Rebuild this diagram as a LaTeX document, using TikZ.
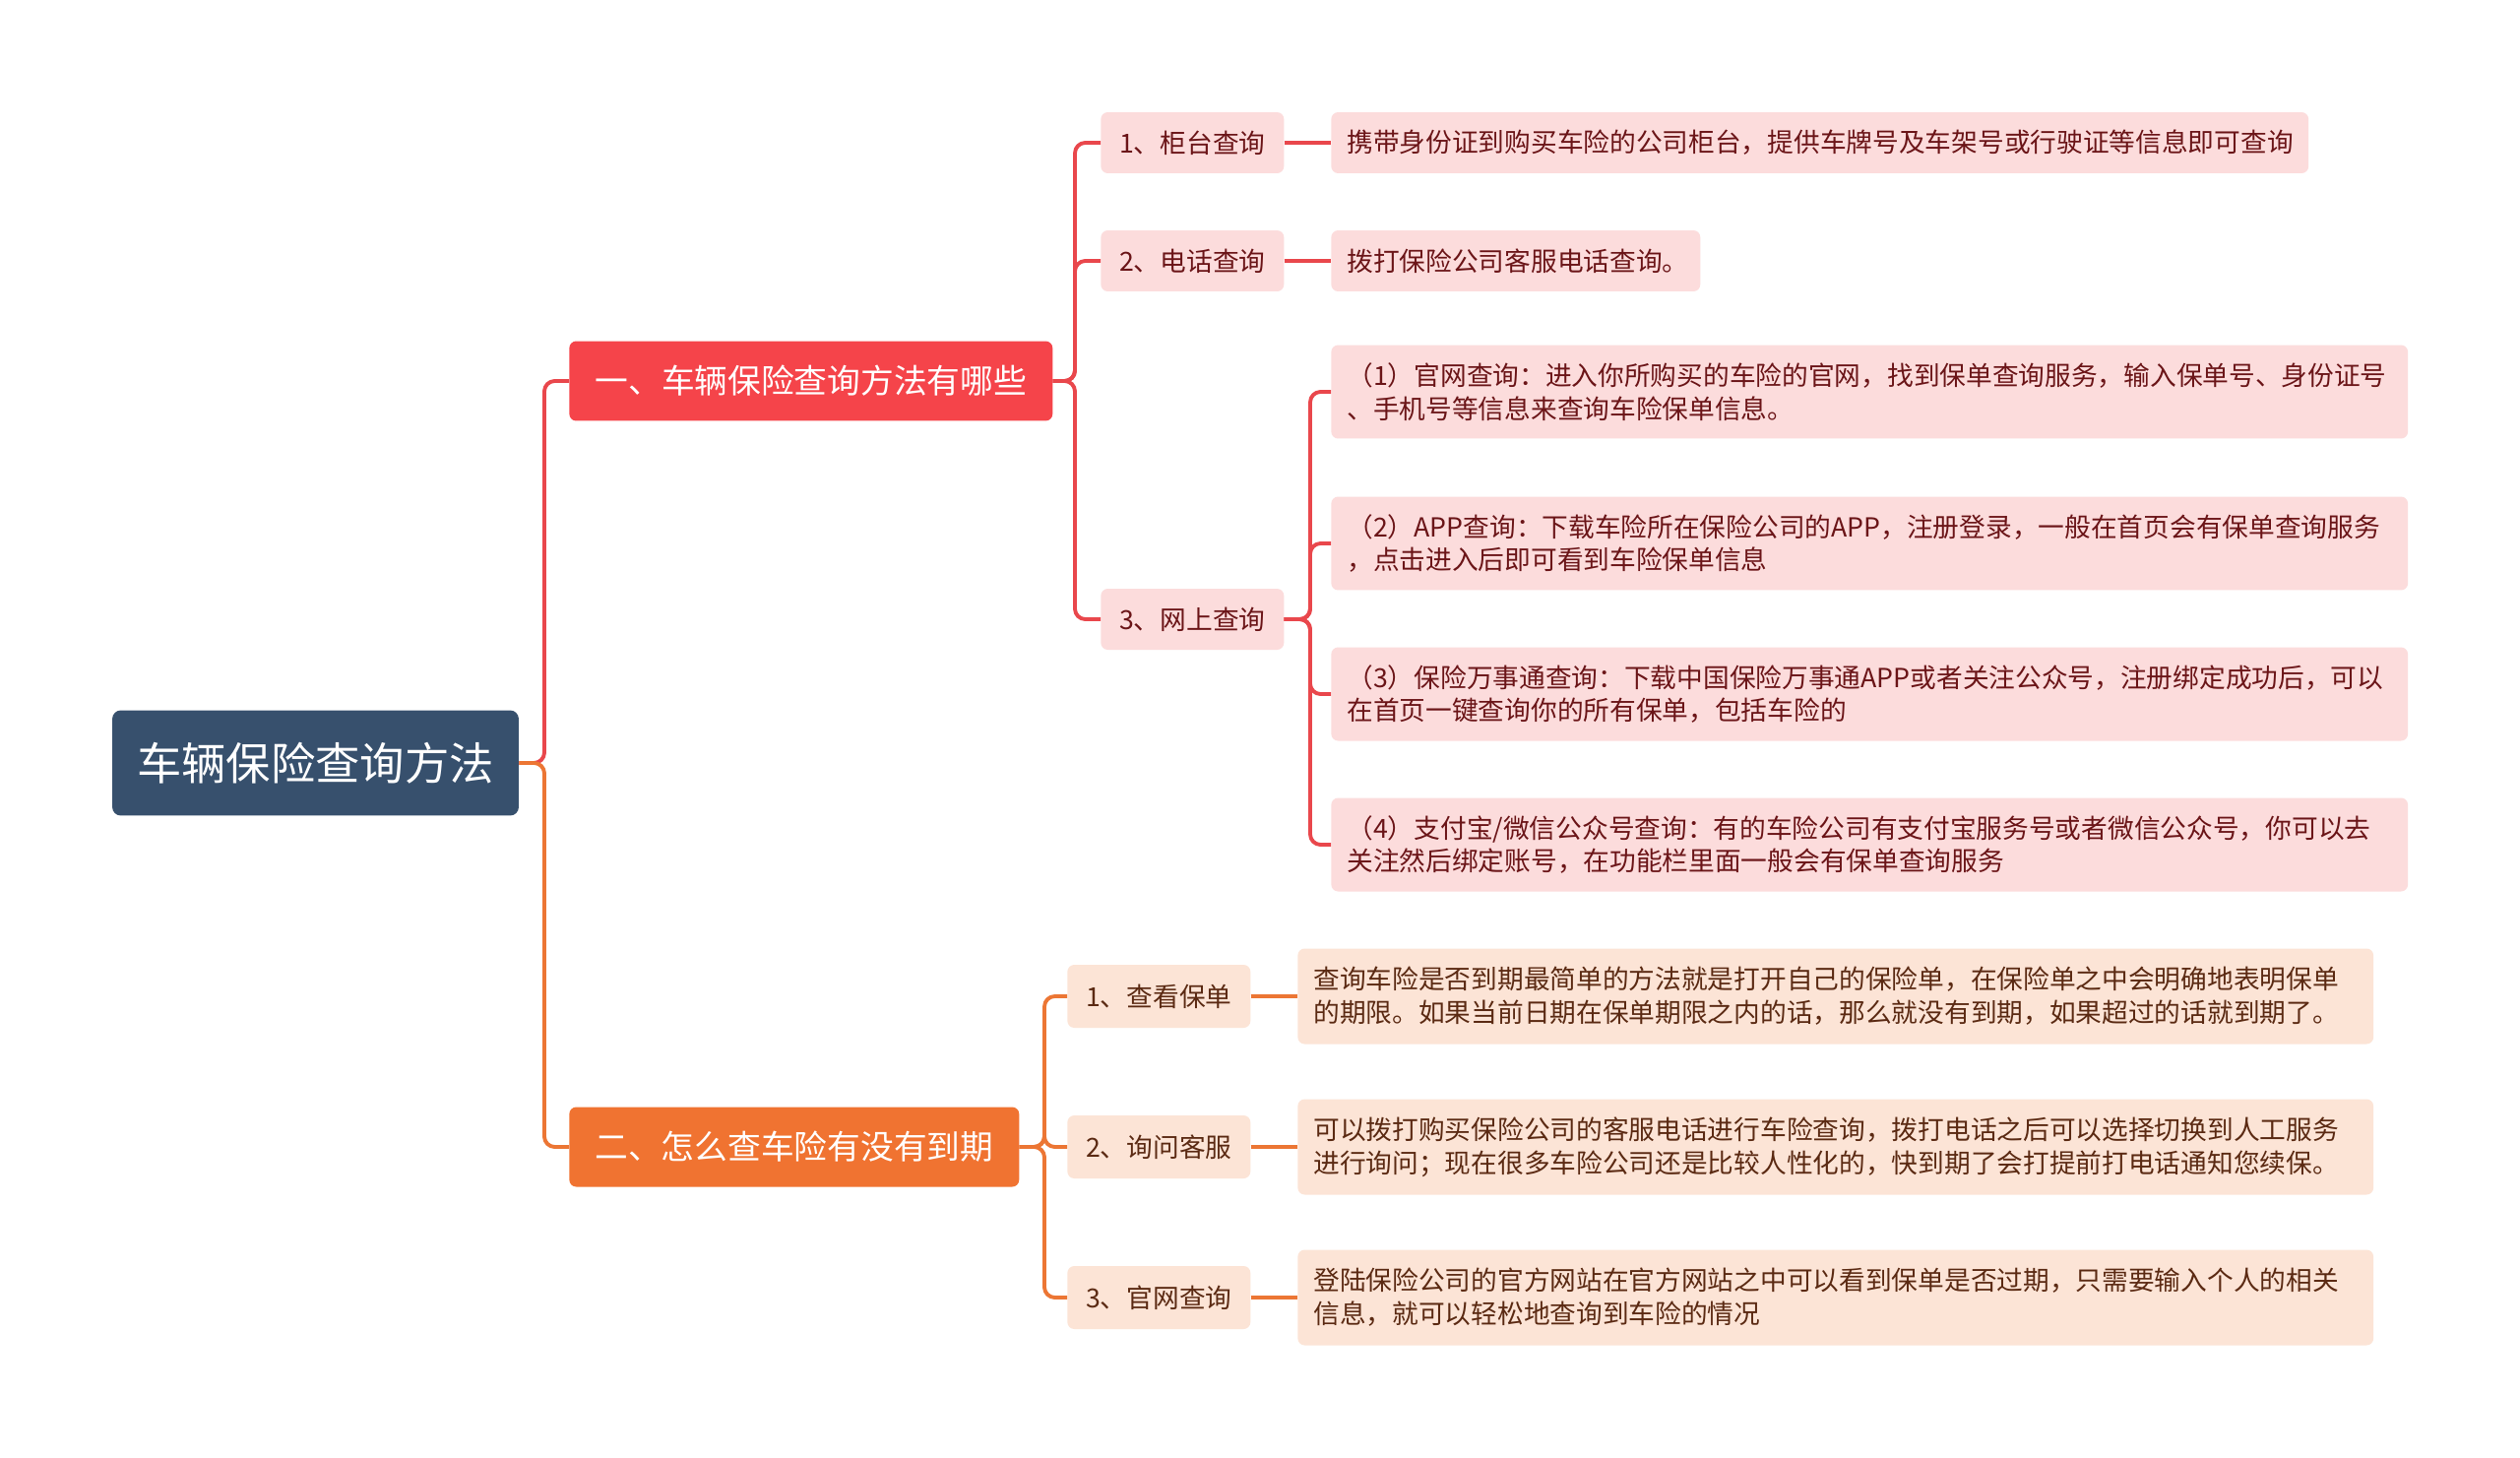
\documentclass[tikz,border=0pt]{standalone}
\usepackage{fontspec}
\setmainfont{Noto Sans CJK SC}
\usepackage{xcolor}
\usetikzlibrary{positioning}

\definecolor{rootblue}{HTML}{37506D}
\definecolor{redmain}{HTML}{F5444A}
\definecolor{redline}{HTML}{E9474C}
\definecolor{redsoft}{HTML}{FCDCDC}
\definecolor{redtext}{HTML}{6B1518}
\definecolor{orgmain}{HTML}{F07331}
\definecolor{orgline}{HTML}{EC7634}
\definecolor{orgsoft}{HTML}{FCE4D6}
\definecolor{orgtext}{HTML}{5B2A13}

\begin{document}
\begin{tikzpicture}[x=0.02cm, y=-0.02cm,
        root/.style={fill=rootblue, text=white, rounded corners=5pt,
                     font=\fontsize{25.8}{30}\selectfont,
                     minimum width=8.26cm, minimum height=2.14cm},
        topic/.style={text=white, rounded corners=4pt, anchor=west,
                      font=\fontsize{19.2}{23}\selectfont, minimum height=1.62cm},
        sub/.style={rounded corners=4pt, anchor=west,
                    font=\fontsize{15.2}{19.3}\selectfont,
                    minimum width=3.72cm, minimum height=1.24cm},
        leaf/.style={rounded corners=4pt, anchor=west, align=left,
                     font=\fontsize{15.2}{19.3}\selectfont,
                     inner xsep=0.32cm, minimum height=1.24cm},
        link/.style={line width=2.2pt, rounded corners=6pt}]
      \fill[white] (0,0) rectangle (2560,1481);
      \useasboundingbox (0,0) rectangle (2560,1481);

      \node[root] (root) at (320.5,775) {车辆保险查询方法};
      \node[topic, fill=redmain, minimum width=9.82cm] (b1) at (578,387)
            {一、车辆保险查询方法有哪些};
      \node[topic, fill=orgmain, minimum width=9.14cm] (b2) at (578,1165)
            {二、怎么查车险有没有到期};

      % first branch
      \node[sub, fill=redsoft, text=redtext] (s1) at (1118,145) {1、柜台查询};
      \node[sub, fill=redsoft, text=redtext] (s2) at (1118,265) {2、电话查询};
      \node[sub, fill=redsoft, text=redtext] (s3) at (1118,629) {3、网上查询};
      \node[leaf, fill=redsoft, text=redtext, text width=19.22cm] (l1) at (1352,145)
            {携带身份证到购买车险的公司柜台，提供车牌号及车架号或行驶证等信息即可查询};
      \node[leaf, fill=redsoft, text=redtext, text width=6.86cm] (l2) at (1352,265)
            {拨打保险公司客服电话查询。};
      \node[leaf, fill=redsoft, text=redtext, text width=21.24cm, minimum height=1.9cm] (w1) at (1352,398)
            {（1）官网查询：进入你所购买的车险的官网，找到保单查询服务，输入保单号、身份证号\\、手机号等信息来查询车险保单信息。};
      \node[leaf, fill=redsoft, text=redtext, text width=21.24cm, minimum height=1.9cm] (w2) at (1352,552)
            {（2）APP查询：下载车险所在保险公司的APP，注册登录，一般在首页会有保单查询服务\\，点击进入后即可看到车险保单信息};
      \node[leaf, fill=redsoft, text=redtext, text width=21.24cm, minimum height=1.9cm] (w3) at (1352,705)
            {（3）保险万事通查询：下载中国保险万事通APP或者关注公众号，注册绑定成功后，可以\\在首页一键查询你的所有保单，包括车险的};
      \node[leaf, fill=redsoft, text=redtext, text width=21.24cm, minimum height=1.9cm] (w4) at (1352,858)
            {（4）支付宝/微信公众号查询：有的车险公司有支付宝服务号或者微信公众号，你可以去\\关注然后绑定账号，在功能栏里面一般会有保单查询服务};

      % second branch
      \node[sub, fill=orgsoft, text=orgtext, minimum height=1.28cm] (t1) at (1084,1012) {1、查看保单};
      \node[sub, fill=orgsoft, text=orgtext, minimum height=1.28cm] (t2) at (1084,1165) {2、询问客服};
      \node[sub, fill=orgsoft, text=orgtext, minimum height=1.28cm] (t3) at (1084,1318) {3、官网查询};
      \node[leaf, fill=orgsoft, text=orgtext, text width=21.22cm, minimum height=1.94cm] (p1) at (1318,1012)
            {查询车险是否到期最简单的方法就是打开自己的保险单，在保险单之中会明确地表明保单\\的期限。如果当前日期在保单期限之内的话，那么就没有到期，如果超过的话就到期了。};
      \node[leaf, fill=orgsoft, text=orgtext, text width=21.22cm, minimum height=1.94cm] (p2) at (1318,1165)
            {可以拨打购买保险公司的客服电话进行车险查询，拨打电话之后可以选择切换到人工服务\\进行询问；现在很多车险公司还是比较人性化的，快到期了会打提前打电话通知您续保。};
      \node[leaf, fill=orgsoft, text=orgtext, text width=21.22cm, minimum height=1.94cm] (p3) at (1318,1318)
            {登陆保险公司的官方网站在官方网站之中可以看到保单是否过期，只需要输入个人的相关\\信息，就可以轻松地查询到车险的情况};

      % connectors
      \draw[link, redline] (root.east) -- (553,775) |- (b1.west);
      \draw[link, orgline] (root.east) -- (553,775) |- (b2.west);
      \draw[link, redline] (b1.east) -- (1092,387) |- (s1.west);
      \draw[link, redline] (b1.east) -- (1092,387) |- (s2.west);
      \draw[link, redline] (b1.east) -- (1092,387) |- (s3.west);
      \draw[link, redline] (s1.east) -- (l1.west);
      \draw[link, redline] (s2.east) -- (l2.west);
      \draw[link, redline] (s3.east) -- (1331,629) |- (w1.west);
      \draw[link, redline] (s3.east) -- (1331,629) |- (w2.west);
      \draw[link, redline] (s3.east) -- (1331,629) |- (w3.west);
      \draw[link, redline] (s3.east) -- (1331,629) |- (w4.west);
      \draw[link, orgline] (b2.east) -- (1061,1165) |- (t1.west);
      \draw[link, orgline] (b2.east) -- (1061,1165) |- (t2.west);
      \draw[link, orgline] (b2.east) -- (1061,1165) |- (t3.west);
      \draw[link, orgline] (t1.east) -- (p1.west);
      \draw[link, orgline] (t2.east) -- (p2.west);
      \draw[link, orgline] (t3.east) -- (p3.west);
    \end{tikzpicture}
\end{document}
